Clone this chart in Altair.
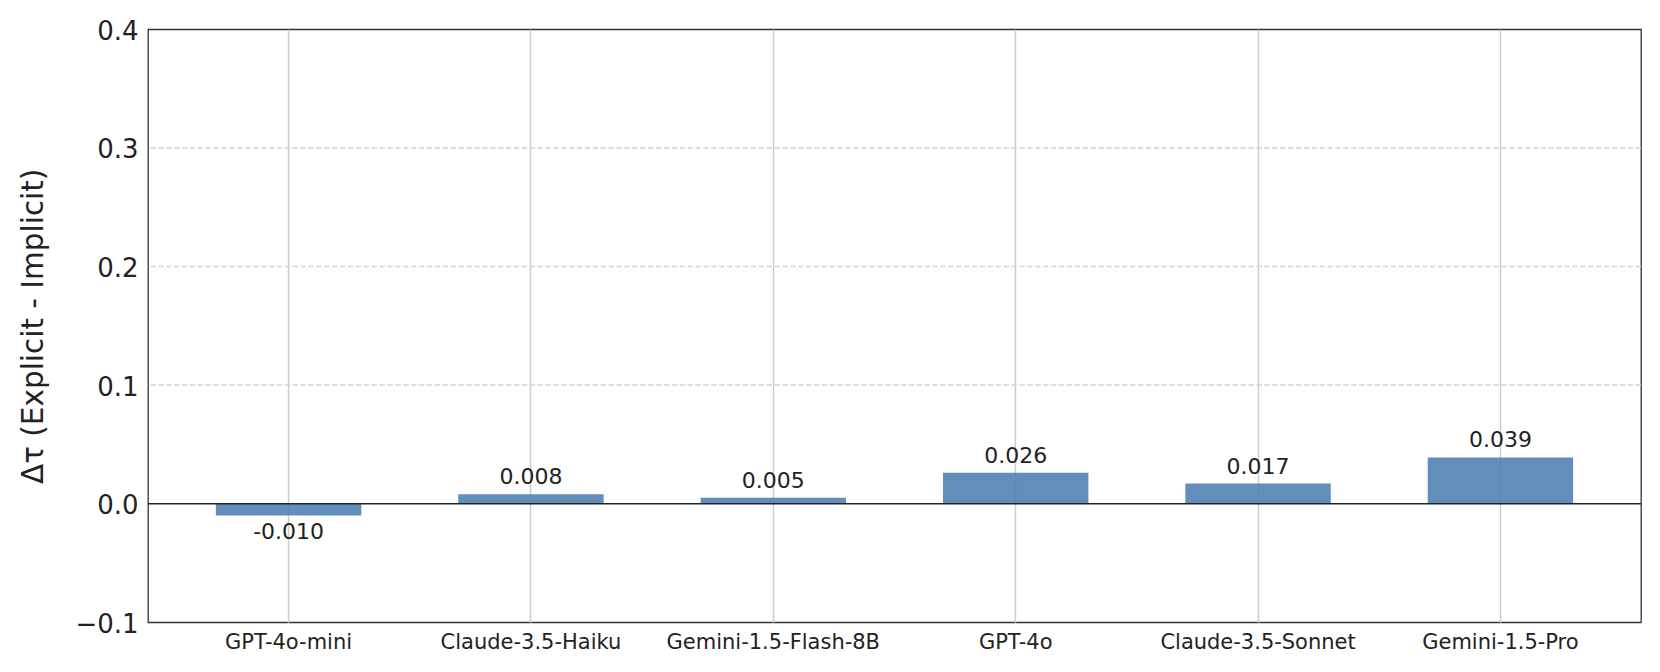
import altair as alt
import pandas as pd

# ---- data ----
models = ["GPT-4o-mini", "Claude-3.5-Haiku", "Gemini-1.5-Flash-8B",
          "GPT-4o", "Claude-3.5-Sonnet", "Gemini-1.5-Pro"]
delta_tau = [-0.010, 0.008, 0.005, 0.026, 0.017, 0.039]
y_ticks = [-0.1, 0.0, 0.1, 0.2, 0.3, 0.4]
y_grid = [0.1, 0.2, 0.3]
y_domain = [-0.1, 0.4]
y_title = "Δτ (Explicit - Implicit)"

value_labels = [f"{v:.3f}" for v in delta_tau]
df = pd.DataFrame({"model": models, "delta": delta_tau, "label": value_labels})
zero_df = pd.DataFrame({"zero": [0.0]})
grid_df = pd.DataFrame({"g": y_grid})

FONT = "DejaVu Sans"
TXT = "#222222"
W, H = 1493, 593

x_enc = alt.X(
    "model:N", sort=models,
    scale=alt.Scale(paddingInner=0.4, paddingOuter=0.28),
    axis=alt.Axis(title=None, labelAngle=0, labelFontSize=21, labelFont=FONT,
                  labelColor=TXT, labelPadding=9, labelLimit=0, ticks=False,
                  tickSize=0, domain=False, grid=True, gridColor="#cccccc",
                  gridWidth=1.5, bandPosition=0.5),
)
y_scale = alt.Scale(domain=y_domain, nice=False)
y_enc = alt.Y(
    "delta:Q", scale=y_scale,
    axis=alt.Axis(values=y_ticks, format=".1f", title=y_title,
                  titleFontSize=29.5, titleFont=FONT, titleFontWeight="normal",
                  titleColor=TXT, titleX=-106, titleY=H / 2, titleAngle=270,
                  titleBaseline="alphabetic", titleAlign="center",
                  labelFontSize=26, labelFont=FONT, labelColor=TXT,
                  labelPadding=10, labelOffset=2, ticks=False, tickSize=0,
                  domain=False, grid=False),
)

base = alt.Chart(df)

hgrid = alt.Chart(grid_df).mark_rule(
    color="#d4d4d4", strokeWidth=1.5, strokeDash=[5.5, 2.4]
).encode(y=alt.Y("g:Q", scale=y_scale))

bars = base.mark_bar(color="#4a7db0", opacity=0.87).encode(
    x=x_enc, y=y_enc, y2=alt.datum(0)
)

zero_line = alt.Chart(zero_df).mark_rule(color="#222222", strokeWidth=1.4).encode(
    y=alt.Y("zero:Q", scale=y_scale)
)

pos_text = base.transform_filter("datum.delta >= 0").mark_text(
    dy=-10, baseline="alphabetic", fontSize=22, font=FONT, color=TXT
).encode(x=alt.X("model:N", sort=models), y=alt.Y("delta:Q", scale=y_scale), text="label:N")

neg_text = base.transform_filter("datum.delta < 0").mark_text(
    dy=23, baseline="alphabetic", fontSize=22, font=FONT, color=TXT
).encode(x=alt.X("model:N", sort=models), y=alt.Y("delta:Q", scale=y_scale), text="label:N")

chart = (
    alt.layer(hgrid, bars, zero_line, pos_text, neg_text)
    .properties(
        width=W, height=H,
        autosize=alt.AutoSizeParams(type="none"),
        padding={"left": 140, "top": 21.3, "right": 10, "bottom": 40},
        background="white",
    )
    .configure_view(stroke="#333333", strokeWidth=1.3)
)

chart.save("out.html", embed_options={"renderer": "svg", "actions": False})
